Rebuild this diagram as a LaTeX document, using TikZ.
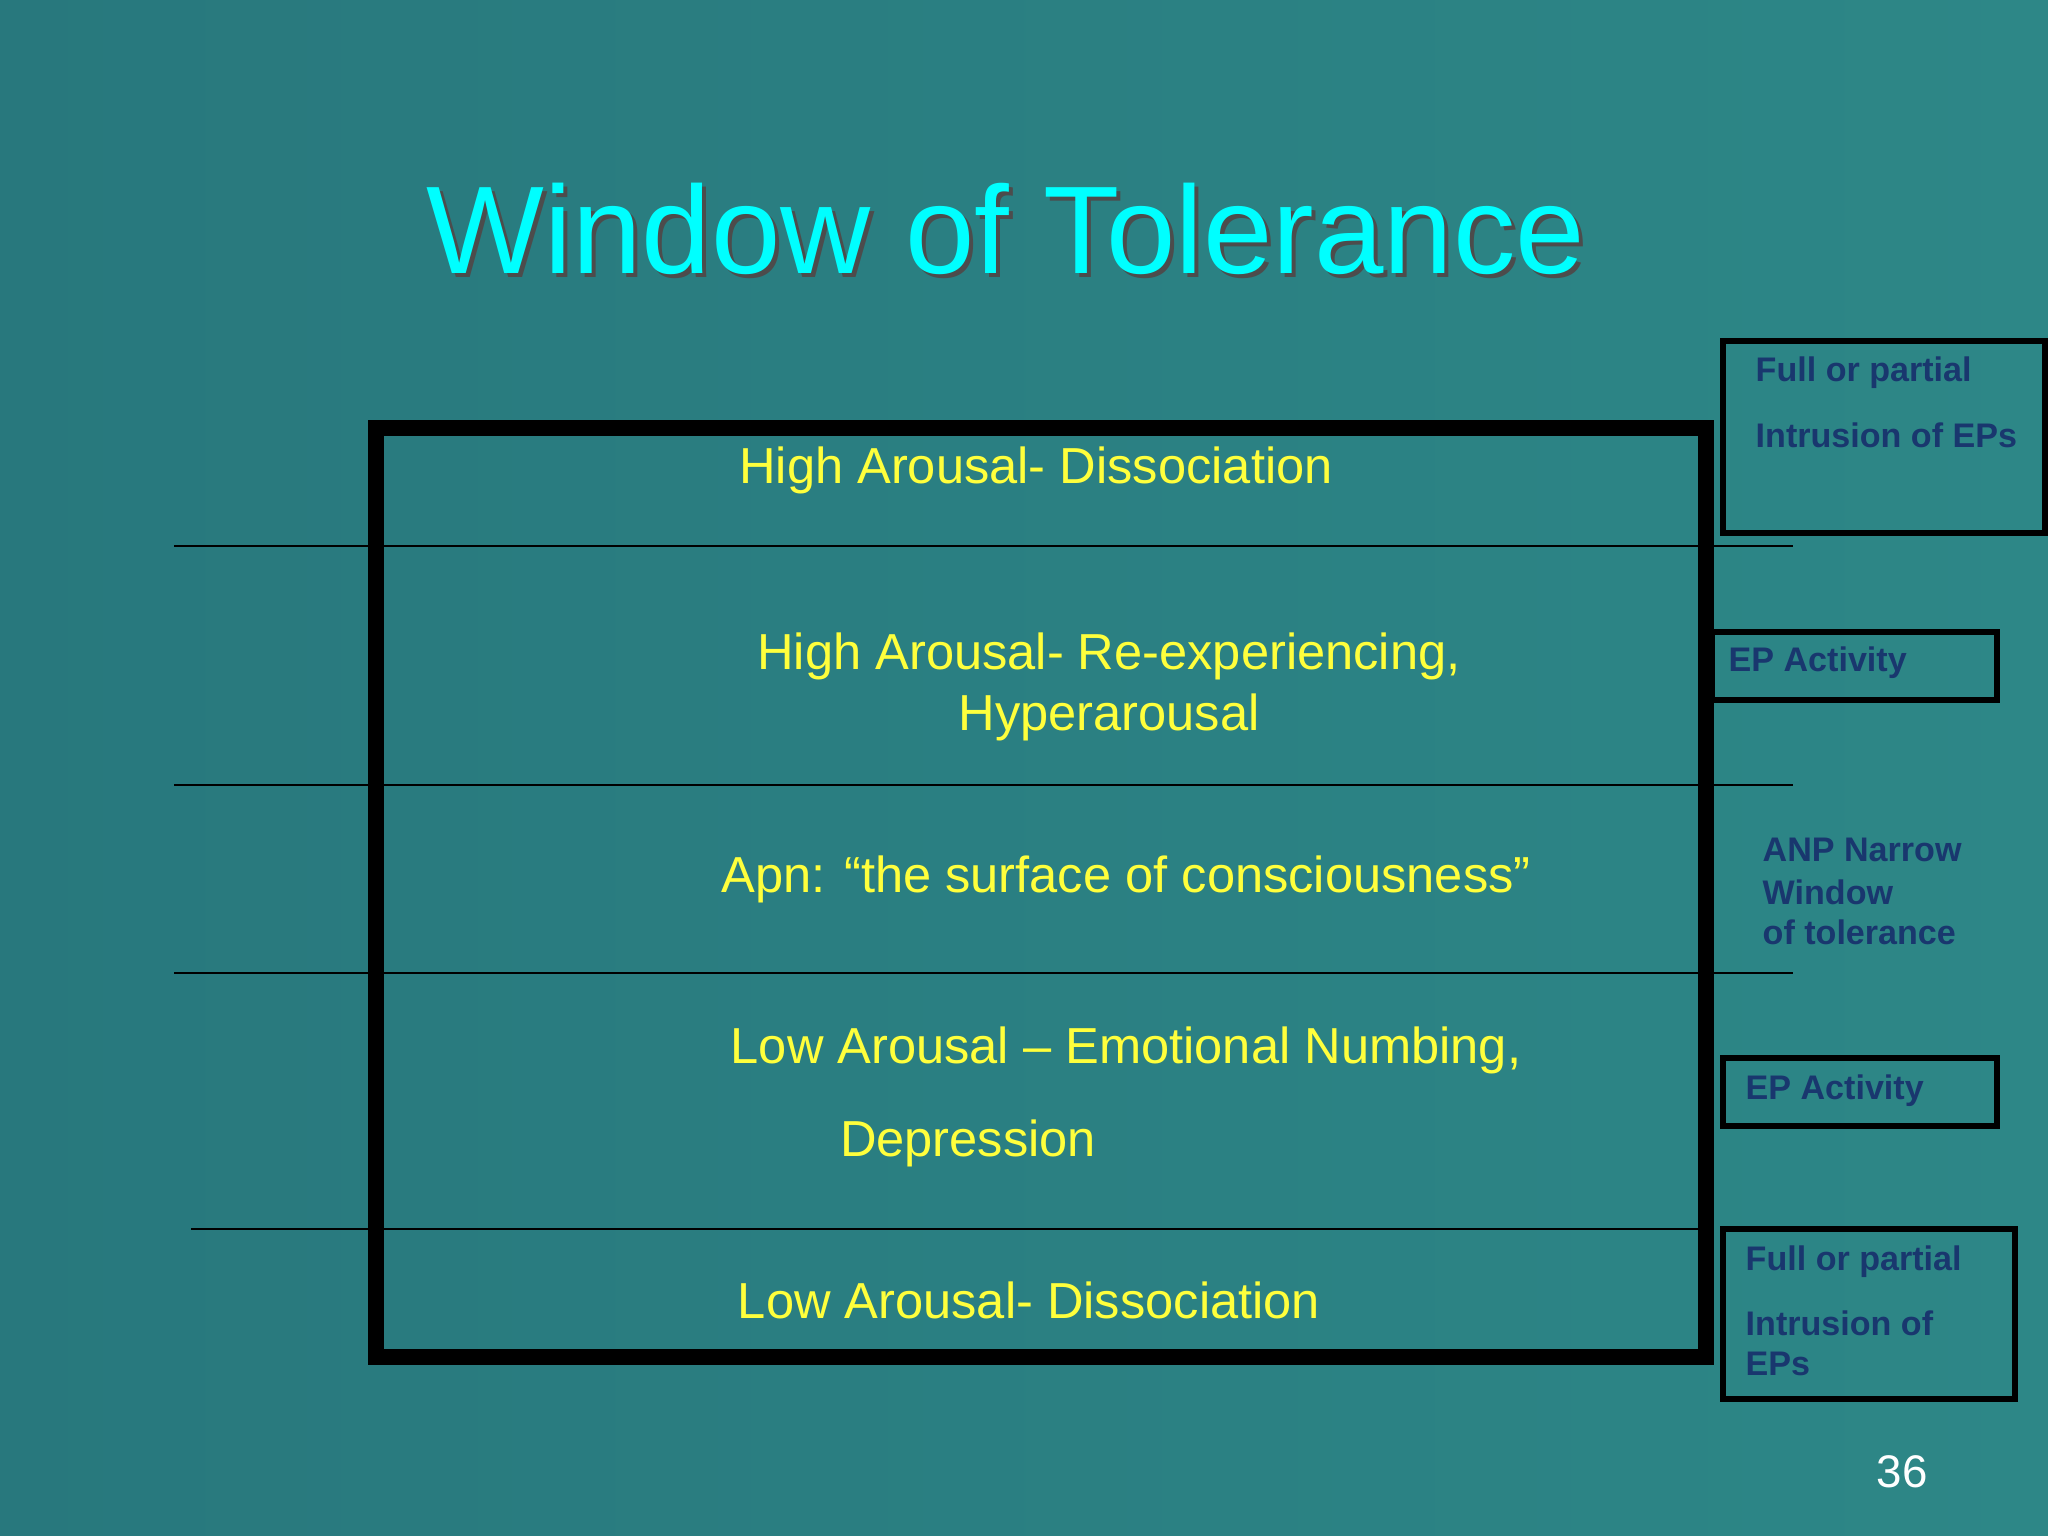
\documentclass[tikz,border=0pt]{standalone}
\usepackage{fontspec}
\setmainfont{Liberation Sans}
\definecolor{bgA}{RGB}{40,120,125}
\definecolor{bgB}{RGB}{45,135,135}
\definecolor{ttl}{RGB}{0,255,255}
\definecolor{ylw}{RGB}{255,255,60}
\definecolor{navy}{RGB}{25,55,110}
\tikzset{
  yl/.style={text=ylw,font=\fontsize{14.4}{17.5}\selectfont,align=center},
  nv/.style={text=navy,font=\fontsize{9.7}{11}\selectfont\bfseries,anchor=west,inner sep=0pt},
  sbox/.style={draw=black,line width=1.5pt},
  hl/.style={draw=black,line width=0.7pt}
}
\begin{document}
\begin{tikzpicture}
\shade[left color=bgA,right color=bgB] (0,0) rectangle (20.48,15.36);
\useasboundingbox (0,0) rectangle (20.48,15.36);
% title
\node (ts) at (10.10,13.03) {\fontsize{35.5}{42}\selectfont\color{black!70}Window of Tolerance};
\node (title) at (10.06,13.07) {\fontsize{35.5}{42}\selectfont\color{ttl}Window of Tolerance};
% lines
\coordinate (l1a) at (1.74,9.90); \coordinate (l1b) at (17.93,9.90);
\coordinate (l2a) at (1.74,7.51); \coordinate (l2b) at (17.93,7.51);
\coordinate (l3a) at (1.74,5.63); \coordinate (l3b) at (17.93,5.63);
\coordinate (l4a) at (1.91,3.07); \coordinate (l4b) at (17.11,3.07);
\draw[hl] (l1a) -- (l1b);
\draw[hl] (l2a) -- (l2b);
\draw[hl] (l3a) -- (l3b);
\draw[hl] (l4a) -- (l4b);
% main box
\draw[line width=4.5pt] (3.76,1.79) rectangle (17.06,11.08);
% yellow texts
\node[yl] (t1) at (10.36,10.66) {High Arousal- Dissociation};
\node[yl] (t2) at (11.09,8.49) {High Arousal- Re-experiencing,\\Hyperarousal};
\node[yl] (t3) at (11.26,6.57) {Apn: “the surface of consciousness”};
\node[yl] (t4) at (11.26,4.86) {Low Arousal – Emotional Numbing,};
\node[yl] (t5) at (9.68,3.93) {Depression};
\node[yl] (t6) at (10.29,2.36) {Low Arousal- Dissociation};
% right boxes
\draw[sbox] (17.23,10.03) rectangle (20.45,11.95);
\node[nv] (b1a) at (17.55,11.63) {Full or partial};
\node[nv] (b1b) at (17.55,11.01) {Intrusion of EPs};
\draw[sbox] (17.12,8.36) rectangle (19.97,9.04);
\node[nv] (b2) at (17.28,8.73) {EP Activity};
\node[nv] (a1) at (17.62,6.86) {ANP Narrow};
\node[nv] (a2) at (17.62,6.44) {Window};
\node[nv] (a3) at (17.62,6.04) {of tolerance};
\draw[sbox] (17.23,4.10) rectangle (19.97,4.78);
\node[nv] (b3) at (17.45,4.45) {EP Activity};
\draw[sbox] (17.23,1.37) rectangle (20.15,3.07);
\node[nv] (b4a) at (17.45,2.74) {Full or partial};
\node[nv] (b4b) at (17.45,2.13) {Intrusion of};
\node[nv] (b4c) at (17.45,1.72) {EPs};
\node[text=white,font=\fontsize{13}{15}\selectfont] (pg) at (19.02,0.64) {36};
\end{tikzpicture}
\end{document}
